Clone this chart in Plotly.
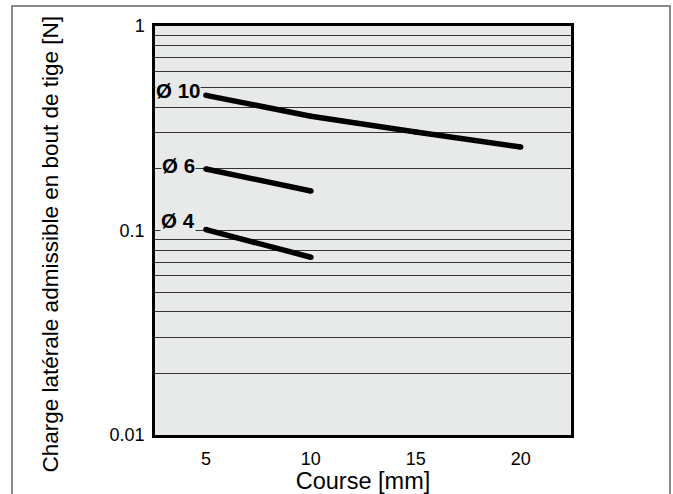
import math
import plotly.graph_objects as go

# Data
course_10 = [5, 10, 15, 20]
charge_10 = [0.458, 0.362, 0.303, 0.256]
course_6 = [5, 10]
charge_6 = [0.200, 0.156]
course_4 = [5, 10]
charge_4 = [0.101, 0.074]
series_labels = ["Ø 10", "Ø 6", "Ø 4"]

x_ticks = [5, 10, 15, 20]
y_grid = [0.01, 0.02, 0.03, 0.04, 0.05, 0.06, 0.07, 0.08, 0.09,
          0.1, 0.2, 0.3, 0.4, 0.5, 0.6, 0.7, 0.8, 0.9, 1]
y_ticktext = ["0.01", "", "", "", "", "", "", "", "",
              "0.1", "", "", "", "", "", "", "", "", "1"]

FONT = "Liberation Sans, Arial, Helvetica, sans-serif"
BG = "#e8e9e9"

fig = go.Figure()
series = [(course_10, charge_10), (course_6, charge_6), (course_4, charge_4)]
for xs, ys in series:
    fig.add_trace(go.Scatter(
        x=xs, y=ys, mode="lines+markers",
        line=dict(color="black", width=5.5),
        marker=dict(color="black", size=5.5),
        showlegend=False, hoverinfo="skip"))

shifts = [(-5, 5), (-10, 3), (-10, 9)]
for (xs, ys), lab, (dx, dy) in zip(series, series_labels, shifts):
    fig.add_annotation(
        x=xs[0], y=math.log10(ys[0]), yref="y", xref="x",
        text="<b>%s</b>" % lab,
        showarrow=False, xanchor="right", yanchor="middle",
        xshift=dx, yshift=dy, bgcolor=BG, borderpad=0,
        font=dict(family=FONT, size=20.5, color="black"))

# Y title
fig.add_annotation(
    x=-0.2837, y=0.467, xref="paper", yref="paper",
    text="Charge latérale admissible en bout de tige [N]",
    textangle=-90, showarrow=False,
    font=dict(family=FONT, size=22.5, color="black"))

# outer frame
fig.add_shape(type="path", xref="paper", yref="paper",
              path="M -0.3438,-0.2 L -0.3438,1.0489 L 1.238,1.0489 L 1.238,-0.2",
              line=dict(color="#666666", width=1.5), layer="below")

fig.update_layout(
    width=673, height=494,
    margin=dict(l=155, r=102, t=26, b=59, autoexpand=False),
    paper_bgcolor="white", plot_bgcolor=BG,
    font=dict(family=FONT, color="black"),
    xaxis=dict(range=[2.57, 22.4], tickvals=x_ticks, showgrid=False,
               automargin=False,
               zeroline=False, showline=True, linecolor="black", linewidth=2.5,
               mirror=True, ticks="", ticklabelstandoff=6,
               tickfont=dict(family=FONT, size=18, color="black"),
               title=dict(text="Course [mm]", standoff=5,
                          font=dict(family=FONT, size=23.5, color="black"))),
    yaxis=dict(type="log", range=[-2, 0], tickvals=y_grid, ticktext=y_ticktext,
               automargin=False,
               showgrid=True, gridcolor="#333333", gridwidth=1,
               zeroline=False, showline=True, linecolor="black", linewidth=2.5,
               mirror=True, ticks="", ticklabelstandoff=4,
               tickfont=dict(family=FONT, size=18, color="black")),
)

fig.write_html("out.html",
               config={"displayModeBar": False},
               post_script="document.body.style.margin='0';"
                           "document.body.style.overflow='hidden';")
